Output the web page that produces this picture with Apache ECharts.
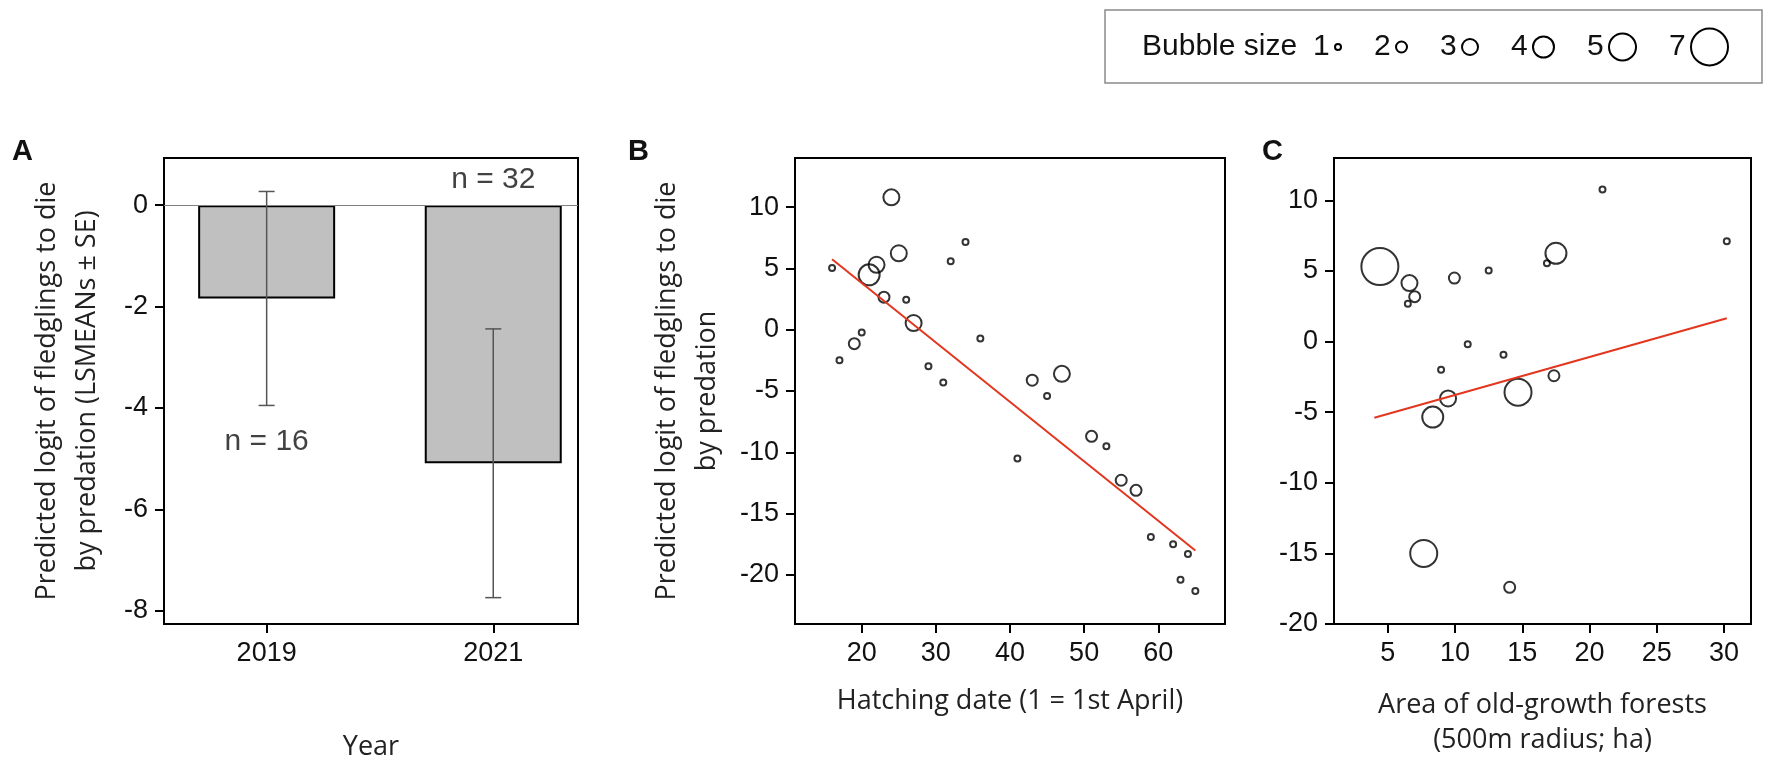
<!DOCTYPE html>
<html lang="en">
<head>
<meta charset="UTF-8">
<title>Predation logit panels</title>
<script src="https://cdn.jsdelivr.net/npm/echarts@6/dist/echarts.min.js"></script>
<style>
    *{margin:0;padding:0;}
    body{background:#fff;}
    #main{width:1775px;height:767px;}
</style>
</head>
<body>
<div id="main"></div>
<script type="text/javascript">
    // panel A: bars + SE
    const yearCats = ['2019', '2021'];
    const yearMeans = [-1.84, -5.09];
    const yearSE = [2.11, 2.65];
    const yearN = ['n = 16', 'n = 32'];
    const yearNPos = [-4.66, 0.5];
    const aTicks = [-8, -6, -4, -2, 0];

    // panel B: hatching date
    const hatchDate = [16, 17, 19, 20, 21, 22, 23, 24, 25, 26, 27, 29, 31, 32, 34, 36, 41, 43, 45, 47, 51, 53, 55, 57, 59, 62, 63, 64, 65];
    const hatchLogit = [5.04, -2.5, -1.14, -0.22, 4.47, 5.29, 2.65, 10.79, 6.23, 2.44, 0.54, -2.99, -4.31, 5.58, 7.16, -0.71, -10.5, -4.12, -5.4, -3.6, -8.7, -9.5, -12.28, -13.1, -16.9, -17.5, -20.4, -18.3, -21.3];
    const hatchSize = [1, 1, 2, 1, 4, 3, 2, 3, 3, 1, 3, 1, 1, 1, 1, 1, 1, 2, 1, 3, 2, 1, 2, 2, 1, 1, 1, 1, 1];
    const hatchFitX = [16, 65];
    const hatchFitY = [5.75, -18.0];
    const bxTicks = [20, 30, 40, 50, 60];
    const byTicks = [-20, -15, -10, -5, 0, 5, 10];

    // panel C: old-growth forest area
    const forestArea = [4.41, 6.61, 7.0, 6.49, 9.95, 12.5, 17.5, 16.83, 20.96, 10.94, 13.6, 8.96, 17.35, 14.68, 9.48, 8.34, 7.67, 14.06, 30.2];
    const forestLogit = [5.31, 4.14, 3.18, 2.67, 4.5, 5.03, 6.25, 5.55, 10.77, -0.19, -0.94, -2.0, -2.42, -3.59, -4.03, -5.35, -15.0, -17.4, 7.1];
    const forestSize = [7, 3, 2, 1, 2, 1, 4, 1, 1, 1, 1, 1, 2, 5, 3, 4, 5, 2, 1];
    const forestFitX = [4, 30.2];
    const forestFitY = [-5.4, 1.65];
    const cxTicks = [5, 10, 15, 20, 25, 30];
    const cyTicks = [-20, -15, -10, -5, 0, 5, 10];

    const legendSizes = [1, 2, 3, 4, 5, 7];

    // bubble size -> pixel diameter
    const sizePx = {1: 6, 2: 11, 3: 16, 4: 21, 5: 27, 7: 37};

    const FONT = 'Liberation Sans';
    const TFONT = 'Open Sans';

    function valAxis(gi, min, max, ticks, extra) {
        return Object.assign({
            type: 'value', gridIndex: gi, min: min, max: max,
            axisLine: {show: true, onZero: false, lineStyle: {color: '#000', width: 2}},
            axisTick: {show: true, length: 9, customValues: ticks, lineStyle: {color: '#000', width: 2}},
            axisLabel: {customValues: ticks, fontSize: 27, color: '#111', fontFamily: FONT, margin: 16},
            splitLine: {show: false}
        }, extra || {});
    }

    let chart = echarts.init(document.getElementById('main'));

    let grids = [
        {left: 164, top: 158, width: 414, height: 466},
        {left: 795, top: 158, width: 430, height: 466},
        {left: 1334, top: 158, width: 417, height: 466}
    ].map(g => Object.assign(g, {
        show: true, borderColor: '#000', borderWidth: 2,
        backgroundColor: 'transparent', containLabel: false, outerBoundsMode: 'none'
    }));

    // year index on a value axis, so the bars can sit off-centre like the original
    let barsA = yearMeans.map((m, i) => [i, m]);
    let errA = yearMeans.map((m, i) => [i, m - yearSE[i], m + yearSE[i]]);
    let nA = yearN.map((t, i) => [i, yearNPos[i], t]);
    let ptsB = hatchDate.map((x, i) => [x, hatchLogit[i], hatchSize[i]]);
    let ptsC = forestArea.map((x, i) => [x, forestLogit[i], forestSize[i]]);

    const bubbleStyle = {color: 'rgba(0,0,0,0)', borderColor: '#000', borderWidth: 2};

    // legend box (decoration)
    let legendItems = [];
    let cur = 1313;
    legendSizes.forEach(s => {
        let d = sizePx[s];
        legendItems.push({
            type: 'text', x: cur, y: 47,
            style: {text: String(s), fontSize: 30, fontFamily: FONT, fill: '#111', verticalAlign: 'middle'}
        });
        legendItems.push({
            type: 'circle', shape: {cx: cur + 22 + d / 2, cy: 47, r: d / 2},
            style: {fill: 'none', stroke: '#000', lineWidth: 2}
        });
        cur += 22 + d + 33;
    });

    let option = {
        animation: false,
        backgroundColor: '#fff',
        grid: grids,
        xAxis: [
            valAxis(0, -0.453, 1.374, [0, 1], {
                name: 'Year', nameLocation: 'middle', nameGap: 110,
                nameTextStyle: {fontSize: 27, fontFamily: TFONT, color: '#222'},
                axisLabel: {
                    customValues: [0, 1], fontSize: 27, color: '#111', fontFamily: FONT, margin: 16,
                    formatter: v => yearCats[Math.round(v)]
                }
            }),
            valAxis(1, 11, 69, bxTicks, {
                name: 'Hatching date (1 = 1st April)', nameLocation: 'middle', nameGap: 64,
                nameTextStyle: {fontSize: 27, fontFamily: TFONT, color: '#222'}
            }),
            valAxis(2, 1, 32, cxTicks, {
                name: 'Area of old-growth forests\n(500m radius; ha)', nameLocation: 'middle', nameGap: 64,
                nameTextStyle: {fontSize: 27, fontFamily: TFONT, color: '#222', lineHeight: 35}
            })
        ],
        yAxis: [
            valAxis(0, -8.26, 0.93, aTicks, {
                name: 'Predicted logit of fledglings to die\nby predation (LSMEANs \u00b1 SE)',
                nameLocation: 'middle', nameGap: 57,
                nameTextStyle: {fontSize: 27, fontFamily: TFONT, color: '#222', lineHeight: 40}
            }),
            valAxis(1, -24, 14, byTicks, {
                name: 'Predicted logit of fledglings to die\nby predation',
                nameLocation: 'middle', nameGap: 68,
                nameTextStyle: {fontSize: 27, fontFamily: TFONT, color: '#222', lineHeight: 40}
            }),
            valAxis(2, -20, 13, cyTicks)
        ],
        series: [
            {
                type: 'bar', xAxisIndex: 0, yAxisIndex: 0, data: barsA, barWidth: 137,
                itemStyle: {color: '#c0c0c0', borderColor: '#000', borderWidth: 2},
                markLine: {
                    silent: true, symbol: 'none', label: {show: false},
                    lineStyle: {color: '#808080', width: 1, type: 'solid'},
                    data: [{yAxis: 0}]
                }
            },
            {
                type: 'custom', xAxisIndex: 0, yAxisIndex: 0, data: errA, z: 5,
                encode: {x: 0, y: [1, 2]},
                renderItem: function (params, api) {
                    let lo = api.coord([api.value(0), api.value(1)]);
                    let hi = api.coord([api.value(0), api.value(2)]);
                    let st = {stroke: '#555', lineWidth: 1.5};
                    return {
                        type: 'group', children: [
                            {type: 'line', shape: {x1: lo[0], y1: lo[1], x2: hi[0], y2: hi[1]}, style: st},
                            {type: 'line', shape: {x1: lo[0] - 8, y1: lo[1], x2: lo[0] + 8, y2: lo[1]}, style: st},
                            {type: 'line', shape: {x1: hi[0] - 8, y1: hi[1], x2: hi[0] + 8, y2: hi[1]}, style: st}
                        ]
                    };
                }
            },
            {
                type: 'scatter', xAxisIndex: 0, yAxisIndex: 0, data: nA, symbolSize: 0,
                label: {
                    show: true, position: 'inside', formatter: p => p.data[2],
                    fontSize: 30, fontFamily: FONT, color: '#111'
                }
            },
            {
                type: 'scatter', xAxisIndex: 1, yAxisIndex: 1, data: ptsB,
                symbol: 'circle', symbolSize: v => sizePx[v[2]], itemStyle: bubbleStyle
            },
            {
                type: 'line', xAxisIndex: 1, yAxisIndex: 1,
                data: hatchFitX.map((x, i) => [x, hatchFitY[i]]),
                symbol: 'none', lineStyle: {color: '#e2361f', width: 2}
            },
            {
                type: 'scatter', xAxisIndex: 2, yAxisIndex: 2, data: ptsC,
                symbol: 'circle', symbolSize: v => sizePx[v[2]], itemStyle: bubbleStyle
            },
            {
                type: 'line', xAxisIndex: 2, yAxisIndex: 2,
                data: forestFitX.map((x, i) => [x, forestFitY[i]]),
                symbol: 'none', lineStyle: {color: '#e2361f', width: 2}
            }
        ],
        graphic: [
            {type: 'text', x: 12, y: 137, style: {text: 'A', fontSize: 29, fontWeight: 'bold', fontFamily: FONT, fill: '#111'}},
            {type: 'text', x: 628, y: 137, style: {text: 'B', fontSize: 29, fontWeight: 'bold', fontFamily: FONT, fill: '#111'}},
            {type: 'text', x: 1262, y: 137, style: {text: 'C', fontSize: 29, fontWeight: 'bold', fontFamily: FONT, fill: '#111'}},
            {
                type: 'rect', shape: {x: 1105, y: 10, width: 657, height: 73},
                style: {fill: 'none', stroke: '#8a8a8a', lineWidth: 1.5}
            },
            {
                type: 'text', x: 1142, y: 47,
                style: {text: 'Bubble size', fontSize: 30, fontFamily: FONT, fill: '#111', verticalAlign: 'middle'}
            }
        ].concat(legendItems)
    };

    chart.setOption(option);
</script>
</body>
</html>
